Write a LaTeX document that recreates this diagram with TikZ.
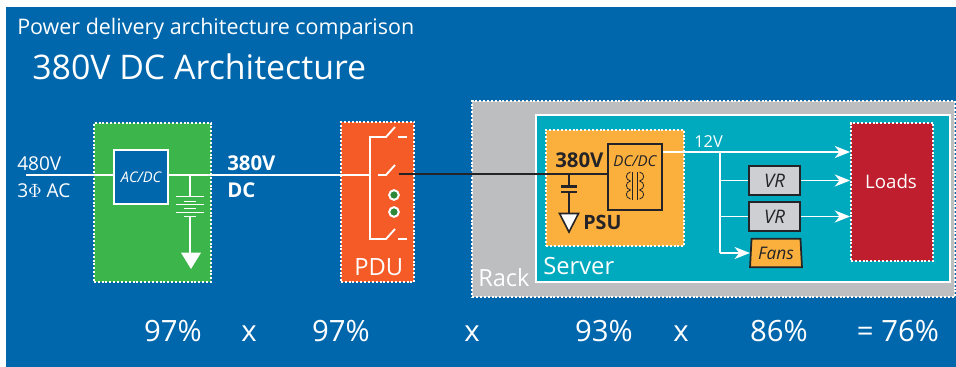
\documentclass[tikz,border=0pt]{standalone}
\usepackage{fontspec}
\setmainfont{Open Sans}
\usetikzlibrary{arrows.meta,shapes.geometric}
\definecolor{bgblue}{RGB}{0,103,172}
\definecolor{boxgreen}{RGB}{60,181,74}
\definecolor{pduorange}{RGB}{244,91,39}
\definecolor{rackgray}{RGB}{188,190,192}
\definecolor{serverteal}{RGB}{0,170,190}
\definecolor{psuorange}{RGB}{251,175,60}
\definecolor{loadred}{RGB}{190,30,45}
\definecolor{vrgray}{RGB}{205,207,210}
\definecolor{darkline}{RGB}{35,35,40}
\tikzset{
	dotbox/.style={draw=white, line width=1.3pt, dash pattern=on 1.5pt off 1.4pt, inner sep=0pt, minimum width=#1},
	wire/.style={white, line width=1.4pt},
	darkwire/.style={darkline, line width=1.4pt},
	tip/.style={wire, -{Stealth[length=11.5pt,width=9pt,inset=3.5pt]}},
	vrbox/.style={draw=darkline, fill=vrgray, line width=1.3pt, minimum width=38pt, minimum height=21.5pt, inner sep=0pt, font=\fontsize{14}{14}\selectfont\itshape, text=darkline},
	label/.style={white, inner sep=0pt, anchor=base west},
	percent/.style={white, inner sep=0pt, anchor=base, font=\fontsize{22}{22}\selectfont},
}
\begin{document}
\begin{tikzpicture}[x=0.75pt,y=-0.75pt]
	\useasboundingbox (0,0) rectangle (956,367);
	\fill [bgblue] (6,7) rectangle (956,367);
	\node [label, font=\fontsize{16.1}{16}\selectfont] (subtitle) at (17,35) {Power delivery architecture comparison};
	\node [label, font=\fontsize{25.4}{25}\selectfont] (title) at (32,80) {380V DC Architecture};

	\node [dotbox=88pt, fill=boxgreen, minimum height=119pt] (rectifier) at (152.5,202.5) {};
	\node [draw=white, line width=1.4pt, minimum width=41pt, minimum height=41pt, inner sep=0pt, fill=bgblue, text=white, font=\fontsize{11}{11}\selectfont\itshape] (acdc) at (141,177) {AC/DC};
	\node [dotbox=55pt, fill=pduorange, minimum height=120pt] (pdu) at (377.5,202) {};
	\node [dotbox=362pt, fill=rackgray, minimum height=147pt] (rack) at (713.5,199) {};
	\node [draw=white, line width=1.4pt, fill=serverteal, minimum width=310pt, minimum height=125pt, inner sep=0pt] (server) at (743,198.5) {};
	\node [dotbox=103.5pt, fill=psuorange, minimum height=87pt] (psu) at (615,188) {};
	\node [draw=darkline, line width=1.4pt, minimum width=41pt, minimum height=49pt, inner sep=0pt] (dcdc) at (635,177) {};
	\node [dotbox=61.5pt, fill=loadred, minimum height=103.5pt] (loads) at (892,192) {};
	\node [text=white, inner sep=0pt, font=\fontsize{14}{14}\selectfont] (loadslabel) at (891,181) {Loads};
	\node [vrbox] (vra) at (774.5,180.5) {VR};
	\node [vrbox] (vrb) at (774.5,216.5) {VR};
	\node [trapezium, trapezium angle=85, draw=darkline, fill=psuorange, line width=1.3pt, minimum width=39pt, minimum height=21.5pt, inner sep=0pt, trapezium stretches=true, text=darkline, font=\fontsize{13}{13}\selectfont\itshape] (fans) at (776,253) {Fans};

	\coordinate (feed) at (26,175);
	\coordinate (bara) at (370,137);
	\coordinate (barb) at (370,175);
	\coordinate (barc) at (370,239);
	\coordinate (breaker) at (399,174);
	\coordinate (capjoin) at (569,174);
	\coordinate (branch) at (720,152);
	\coordinate (brancha) at (720,180.5);
	\coordinate (branchb) at (720,216.5);
	\coordinate (branchc) at (720,253);

	\draw [wire] (feed) -- (acdc.west |- feed);
	\draw [wire] (acdc.east |- barb) -- (barb);
	\draw [wire] (190,175) -- (190,196.5);
	\foreach \y in {196.7,204.3,212.3} \draw [wire, line width=1pt] (176,\y) -- (204,\y);
	\foreach \y in {201.7,208.3,216.7} \draw [wire, line width=1pt] (184,\y) -- (196,\y);
	\draw [wire] (190,216.7) -- (190,253);
	\fill [white] (181,252.7) -- (201,252.7) -- (191,269) -- cycle;

	\draw [wire] (378,137) -- (bara) -- (barc) -- (378,239);
	\foreach \y in {137,175,239} \draw [wire] (378,\y) -- (386,\y) -- (395,\y-10);
	\draw [wire] (398,137) -- (407,137);
	\draw [wire] (398,239) -- (407,239);
	\foreach \y in {195,212} \draw [draw=white, fill=boxgreen!75!black, line width=1.5pt] (394,\y) circle (3.6pt);

	\draw [darkwire] (breaker) -- (dcdc.west |- breaker);
	\draw [darkwire] (capjoin) -- (569,186);
	\draw [darkwire, line width=1.6pt] (561,186.5) -- (577,186.5);
	\draw [darkwire, line width=1.6pt] (561,192) -- (577,192);
	\draw [darkwire] (569,192) -- (569,213);
	\draw [darkline, fill=white, line width=1.2pt] (559.5,213.5) -- (578.5,213.5) -- (569,232) -- cycle;

	\node [inner sep=0pt, text=darkline, font=\fontsize{11.3}{11}\selectfont\itshape] (dcdclabel) at (635,161) {DC/DC};
	\foreach \x in {632.5,637.5} \draw [darkline, line width=0.6pt] (\x,172) -- (\x,200);
	\foreach \y in {172,181,190} {
		\draw [darkline, line width=0.6pt] (630.5,\y) .. controls (625,\y+1) and (625,\y+8) .. (630.5,\y+9);
		\draw [darkline, line width=0.6pt] (639.5,\y) .. controls (645,\y+1) and (645,\y+8) .. (639.5,\y+9);
	}

	\draw [tip] (dcdc.east |- branch) -- (loads.west |- branch);
	\draw [wire] (branch) -- (branchc);
	\draw [wire] (brancha) -- (vra);
	\draw [wire] (branchb) -- (vrb);
	\draw [tip] (vra) -- (loads.west |- vra);
	\draw [tip] (vrb) -- (loads.west |- vrb);
	\draw [tip] (branchc) -- (fans.west |- branchc);

	\node [label, font=\fontsize{14.3}{14}\selectfont] (inv) at (17,171) {480V};
	\node [label, font=\fontsize{14.3}{14}\selectfont] (inphase) at (17,197) {3\(\Phi\) AC};
	\node [label, font=\fontsize{15.3}{15}\bfseries\selectfont] (busv) at (227,171) {380V};
	\node [label, font=\fontsize{15.3}{15}\bfseries\selectfont] (busdc) at (227,197) {DC};
	\node [label, font=\fontsize{17.8}{18}\selectfont] (pdulabel) at (354,275) {PDU};
	\node [label, font=\fontsize{17.7}{18}\selectfont] (racklabel) at (478,286) {Rack};
	\node [label, font=\fontsize{17.8}{18}\selectfont] (serverlabel) at (543,274) {Server};
	\node [label, text=darkline, font=\fontsize{15.3}{15}\bfseries\selectfont] (psuv) at (555,167) {380V};
	\node [label, text=darkline, font=\fontsize{14.8}{15}\bfseries\selectfont] (psulabel) at (583,229) {PSU};
	\node [label, font=\fontsize{12.3}{12}\selectfont] (twelve) at (694,148) {12V};

	\node [percent] (pa) at (173,341) {97\%};
	\node [percent] (xa) at (249,341) {x};
	\node [percent] (pb) at (341,341) {97\%};
	\node [percent] (xb) at (472,341) {x};
	\node [percent] (pc) at (604,341) {93\%};
	\node [percent] (xc) at (681,341) {x};
	\node [percent] (pd) at (779,341) {86\%};
	\node [percent] (total) at (898,341) {= 76\%};
\end{tikzpicture}
\end{document}
